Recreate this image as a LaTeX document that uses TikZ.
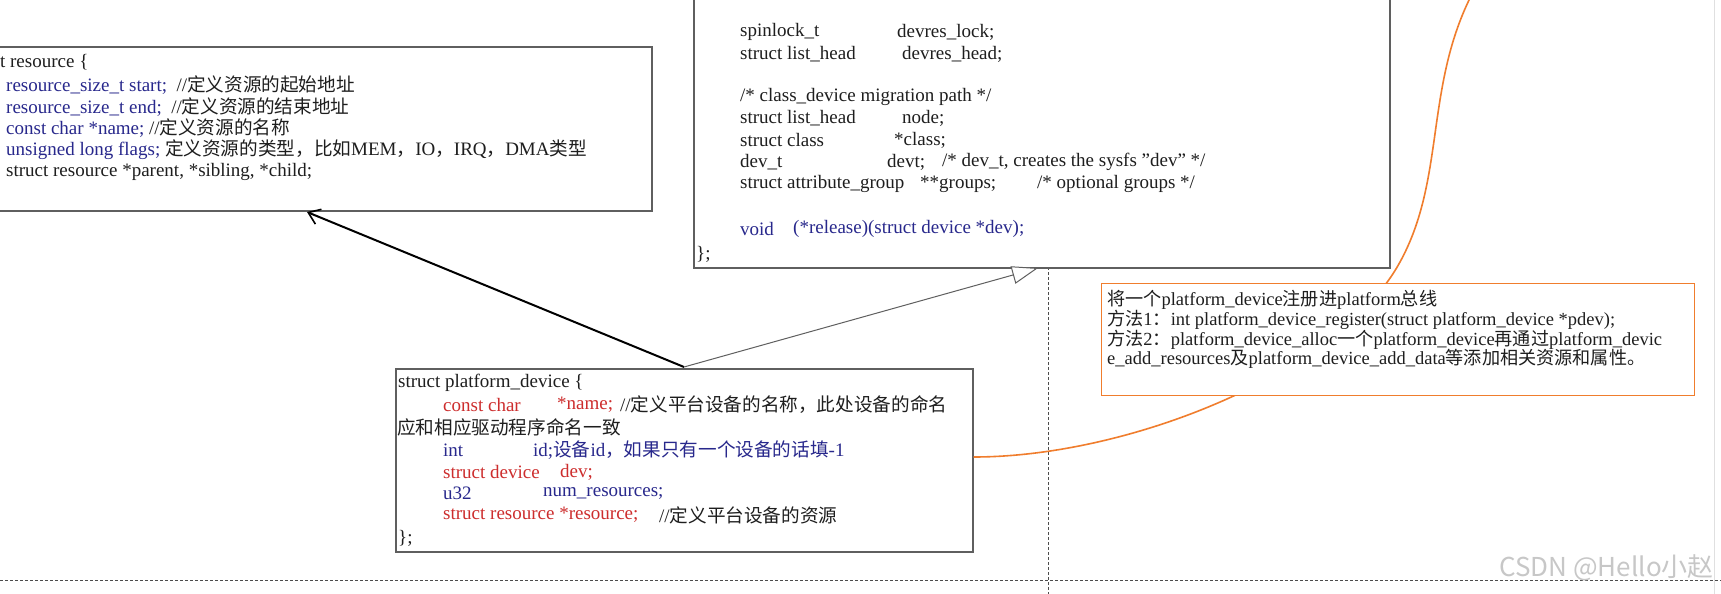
\documentclass[tikz,border=0pt]{standalone}
\usepackage{fontspec}
\setmainfont{Liberation Serif}
\newfontfamily\cjk{Noto Sans CJK SC}[Scale=0.98]
\newfontfamily\wmfont{Noto Sans CJK SC}
\usetikzlibrary{arrows.meta}
\newcommand\zh[1]{{\cjk #1}}
\definecolor{cblue}{RGB}{40,40,140}
\definecolor{cred}{RGB}{205,45,45}
\definecolor{corange}{RGB}{240,125,45}
\definecolor{cgrey}{RGB}{95,95,95}
\definecolor{ctext}{RGB}{30,30,30}
\newcommand\T[5]{\node[txt,text=#4] (#1) at (#2,#3) {#5};}
\begin{document}
\begin{tikzpicture}[x=1pt,y=-1pt,
  txt/.style={anchor=west,inner sep=0pt,font=\fontsize{19}{22}\selectfont},
  ntxt/.style={txt,font=\fontsize{18.5}{22}\selectfont},
  box/.style={draw=cgrey,line width=1.6pt,fill=white,anchor=north west,inner sep=0pt},
  notebox/.style={draw=corange,line width=1pt,fill=white,anchor=north west,inner sep=0pt},
  guide/.style={draw=black!70,line width=0.9pt,dash pattern=on 2.5pt off 2.5pt}]
\useasboundingbox (0,0) rectangle (1721,594);
\fill[white] (0,0) rectangle (1721,594);
\draw[black!12,line width=1pt] (1714,0) -- (1714,594);
% guides
\coordinate (vg1) at (1048,267); \coordinate (vg2) at (1048,594);
\coordinate (hg1) at (0,580); \coordinate (hg2) at (1721,580);
\draw[guide] (vg1) -- (vg2);
\draw[guide] (hg1) -- (hg2);
% boxes
\node[box,minimum width=661pt,minimum height=164pt] (res) at (-10,46) {};
\node[box,minimum width=696pt,minimum height=277pt] (dev) at (693,-10) {};
\node[box,minimum width=577pt,minimum height=183pt] (pd) at (395,368) {};
% orange curve
\coordinate (oc1) at (1400,262);
\coordinate (oc2) at (1470,-2);
\draw[corange,line width=1.6pt] (pd.east |- 0,457) .. controls (1130,457) and (1340,372) .. (oc1) .. controls (1445,180) and (1425,90) .. (oc2);
\node[notebox,minimum width=593pt,minimum height=112pt] (note) at (1101,283) {};
% arrows
\coordinate (pdtop) at (684,367);
\coordinate (restip) at (307,212);
\coordinate (devtip) at (1038,268);
\draw[black,line width=2pt,-{Straight Barb[length=11pt,width=16pt,line width=1.6pt]}] (pdtop) -- (restip);
\draw[cgrey,line width=1pt,-{Triangle[open,length=26pt,width=18pt,fill=white]}] (pdtop) -- (devtip);
% resource text
\T{r0}{-37}{62}{ctext}{struct resource \{}
\T{r1}{6}{85}{ctext}{\textcolor{cblue}{resource\_size\_t start;} \ //\zh{定义资源的起始地址}}
\T{r2}{6}{107}{ctext}{\textcolor{cblue}{resource\_size\_t end;} \ //\zh{定义资源的结束地址}}
\T{r3}{6}{128}{ctext}{\textcolor{cblue}{const char *name;} //\zh{定义资源的名称}}
\T{r4}{6}{150}{ctext}{\textcolor{cblue}{unsigned long flags;} \zh{定义资源的类型，比如}MEM\zh{，}IO\zh{，}IRQ\zh{，}DMA\zh{类型}}
\T{r5}{6}{172}{ctext}{struct resource *parent, *sibling, *child;}
% device text
\T{d1}{740}{32}{ctext}{spinlock\_t}
\T{d1b}{897}{32}{ctext}{devres\_lock;}
\T{d2}{740}{54}{ctext}{struct list\_head}
\T{d2b}{902}{54}{ctext}{devres\_head;}
\T{d3}{740}{97}{ctext}{/* class\_device migration path */}
\T{d4}{740}{118}{ctext}{struct list\_head}
\T{d4b}{902}{118}{ctext}{node;}
\T{d5}{740}{140}{ctext}{struct class}
\T{d5b}{894}{140}{ctext}{*class;}
\T{d6}{740}{162}{ctext}{dev\_t}
\T{d6b}{887}{162}{ctext}{devt;}
\T{d6c}{942}{162}{ctext}{/* dev\_t, creates the sysfs \symbol{34}dev\symbol{34} */}
\T{d7}{740}{184}{ctext}{struct attribute\_group}
\T{d7b}{920}{184}{ctext}{**groups;}
\T{d7c}{1037}{184}{ctext}{/* optional groups */}
\T{d8}{740}{229}{cblue}{void}
\T{d8b}{793}{229}{cblue}{(*release)(struct device *dev);}
\T{d9}{696}{254}{ctext}{\};}
% platform text
\T{p1}{398}{383}{ctext}{struct platform\_device \{}
\T{p2}{443}{405}{cred}{const char}
\T{p2b}{557}{405}{cred}{*name;}
\T{p2c}{620}{405}{ctext}{//\zh{定义平台设备的名称，此处设备的命名}}
\T{p3}{397}{427}{ctext}{\zh{应和相应驱动程序命名一致}}
\T{p4}{443}{450}{cblue}{int}
\T{p4b}{533}{450}{cblue}{id;\zh{设备}id\zh{，如果只有一个设备的话填}-1}
\T{p5}{443}{472}{cred}{struct device}
\T{p5b}{560}{472}{cred}{dev;}
\T{p6}{443}{493}{cblue}{u32}
\T{p6b}{543}{493}{cblue}{num\_resources;}
\T{p7}{443}{515}{cred}{struct resource *resource;}
\T{p7b}{659}{515}{ctext}{//\zh{定义平台设备的资源}}
\T{p8}{398}{538}{ctext}{\};}
% note text
\node[ntxt,text=ctext] (n1) at (1107,300) {\zh{将一个}platform\_device\zh{注册进}platform\zh{总线}};
\node[ntxt,text=ctext] (n2) at (1107,320) {\zh{方法}1\zh{：}int platform\_device\_register(struct platform\_device *pdev);};
\node[ntxt,text=ctext] (n3) at (1107,340) {\zh{方法}2\zh{：}platform\_device\_alloc\zh{一个}platform\_device\zh{再通过}platform\_devic};
\node[ntxt,text=ctext] (n4) at (1107,359) {e\_add\_resources\zh{及}platform\_device\_add\_data\zh{等添加相关资源和属性。}};
% watermark
\node[anchor=east,inner sep=0pt,text=black!22,font=\wmfont\fontsize{26}{26}\selectfont] (wm) at (1714,568) {CSDN @Hello小赵};
\end{tikzpicture}
\end{document}
